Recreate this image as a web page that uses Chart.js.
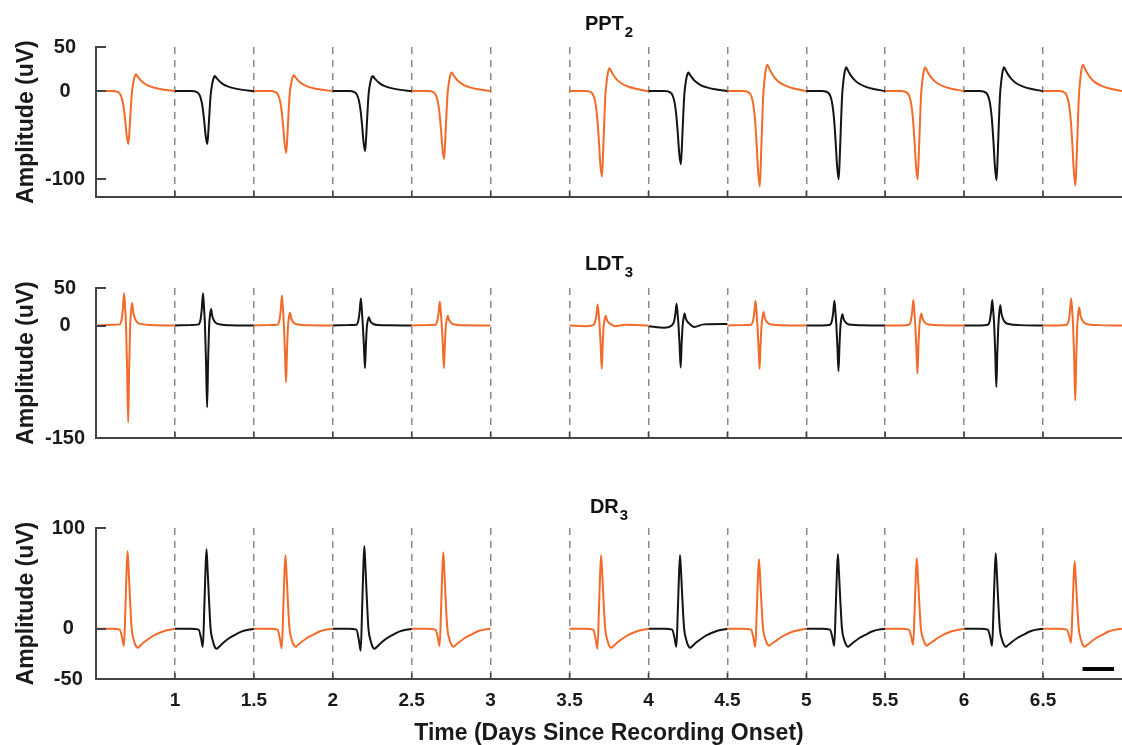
<!DOCTYPE html>
<html>
<head>
<meta charset="utf-8">
<script src="https://cdn.jsdelivr.net/npm/chart.js@4/dist/chart.umd.min.js"></script>
<style>
  body { margin: 0; background: #fff; }
  #wrap { position: relative; width: 1122px; height: 745px; overflow: hidden; background: #fff; }
  canvas { position: absolute; left: 0; }
  .ttl {
    position: absolute; left: 96px; width: 1026px; text-align: center;
    font: bold 20px "Liberation Sans", Arial, sans-serif; line-height: 20px;
    color: #111; z-index: 2;
  }
  .ttl .sb { font-size: 15px; position: relative; top: 7px; margin-left: 1px; }
</style>
</head>
<body>
<div id="wrap">
  <canvas id="pptChart" width="1122" height="240" style="top:0px"></canvas>
  <canvas id="ldtChart" width="1122" height="240" style="top:240px"></canvas>
  <canvas id="drChart" width="1122" height="265" style="top:480px"></canvas>
  <div class="ttl" style="top:13px">PPT<span class="sb">2</span></div>
  <div class="ttl" style="top:253px">LDT<span class="sb">3</span></div>
  <div class="ttl" style="top:496px">DR<span class="sb">3</span></div>
</div>
<script>
// ==================================================
// DATA
// ==================================================
// start of each half-day window (days since onset), no recording 3 - 3.5
const segStarts = [0.5, 1, 1.5, 2, 2.5, 3.5, 4, 4.5, 5, 5.5, 6, 6.5];
const segPhase = ['light', 'dark', 'light', 'dark', 'light', 'light', 'dark', 'light', 'dark', 'light', 'dark', 'light'];
const xTickValues = [1, 1.5, 2, 2.5, 3, 3.5, 4, 4.5, 5, 5.5, 6, 6.5];

// PPT2 : sample times inside a window + mean waveform per window (uV)
const pptOffsets = [0, 0.1, 0.14, 0.155, 0.165, 0.175, 0.185, 0.195, 0.205, 0.213, 0.22, 0.227, 0.234, 0.243, 0.253, 0.265, 0.28, 0.3, 0.33, 0.37, 0.42, 0.5];
const pptWaves = [
    [0, 0, -1.2, -4.2, -9, -18, -33, -51, -60, -42, -21, -3, 6.7, 15.2, 19, 16.2, 12.9, 9.5, 6.3, 3.8, 1.9, 0],
    [0, 0, -1.2, -4.2, -9, -18, -33, -51, -60, -42, -21, -3, 6, 13.6, 17, 14.5, 11.6, 8.5, 5.6, 3.4, 1.7, 0],
    [0, 0, -1.4, -4.9, -10.5, -21, -38.5, -59.5, -70, -49, -24.5, -3.5, 6.3, 14.4, 18, 15.3, 12.2, 9, 5.9, 3.6, 1.8, 0],
    [0, 0, -1.4, -4.8, -10.2, -20.4, -37.4, -57.8, -68, -47.6, -23.8, -3.4, 6, 13.6, 17, 14.5, 11.6, 8.5, 5.6, 3.4, 1.7, 0],
    [0, 0, -1.5, -5.4, -11.6, -23.1, -42.4, -65.5, -77, -53.9, -27, -3.9, 7.4, 16.8, 21, 17.9, 14.3, 10.5, 6.9, 4.2, 2.1, 0],
    [0, 0, -1.9, -6.8, -14.6, -29.1, -53.4, -82.5, -97, -67.9, -34, -4.9, 9.1, 20.8, 26, 22.1, 17.7, 13, 8.6, 5.2, 2.6, 0],
    [0, 0, -1.7, -5.8, -12.5, -24.9, -45.7, -70.6, -83, -58.1, -29, -4.2, 7.4, 16.8, 21, 17.9, 14.3, 10.5, 6.9, 4.2, 2.1, 0],
    [0, 0, -2.2, -7.6, -16.2, -32.4, -59.4, -91.8, -108, -75.6, -37.8, -5.4, 10.5, 24, 30, 25.5, 20.4, 15, 9.9, 6, 3, 0],
    [0, 0, -2, -7, -15, -30, -55, -85, -100, -70, -35, -5, 9.5, 21.6, 27, 23, 18.4, 13.5, 8.9, 5.4, 2.7, 0],
    [0, 0, -2, -7, -15, -30, -55, -85, -100, -70, -35, -5, 9.5, 21.6, 27, 23, 18.4, 13.5, 8.9, 5.4, 2.7, 0],
    [0, 0, -2, -7.1, -15.2, -30.3, -55.6, -85.9, -101, -70.7, -35.4, -5.1, 9.5, 21.6, 27, 23, 18.4, 13.5, 8.9, 5.4, 2.7, 0],
    [0, 0, -2.1, -7.5, -16, -32.1, -58.9, -91, -107, -74.9, -37.5, -5.4, 10.5, 24, 30, 25.5, 20.4, 15, 9.9, 6, 3, 0]
];
const pptTicks = [-100, 0, 50];

// LDT3
const ldtOffsets = [0, 0.1, 0.15, 0.162, 0.17, 0.178, 0.185, 0.19, 0.197, 0.204, 0.21, 0.216, 0.222, 0.229, 0.236, 0.245, 0.26, 0.29, 0.35, 0.5];
const ldtWaves = [
    [0, 1, 1.5, 7.7, 21.5, 43, 21.5, 2, -58, -129, -58, -4, 18, 30, 18, 10.5, 4.5, 1.8, 0.6, 0],
    [0, 0.5, 1.5, 7.7, 21.5, 43, 21.5, 2, -49, -109, -49, -3.3, 13.2, 22, 13.2, 7.7, 3.3, 1.3, 0.4, 0],
    [0, 0.5, 1, 7.2, 20, 40, 20, 2, -34.2, -76, -34.2, -2.3, 10.2, 17, 10.2, 6, 2.6, 1, 0.3, 0],
    [0, 0.5, 1, 6.5, 18, 36, 18, 1.8, -25.7, -57, -25.7, -1.7, 6.6, 11, 6.6, 3.9, 1.7, 0.7, 0.2, 0],
    [0, 0.5, 1, 5.8, 16, 32, 16, 1.6, -25.7, -57, -25.7, -1.7, 7.8, 13, 7.8, 4.6, 2, 0.8, 0.3, 0],
    [0, -1, 0.5, 5, 14, 28, 14, 1.4, -26.1, -58, -26.1, -1.7, 7.8, 13, 7.8, 4.6, 2, -1, 1, 0],
    [-1, -3, 0.5, 5.2, 14.5, 29, 14.5, 1.5, -25.2, -56, -25.2, -1.7, 9.6, 16, 9.6, 5.6, 2.4, -2, 1.5, 2],
    [0, 0.5, 1, 5.9, 16.5, 33, 16.5, 1.7, -26.1, -58, -26.1, -1.7, 10.8, 18, 10.8, 6.3, 2.7, 1.1, 0.4, 0],
    [0, 0, 1, 5.9, 16.5, 33, 16.5, 1.7, -27.5, -61, -27.5, -1.8, 9, 15, 9, 5.3, 2.3, 0.9, 0.3, 0],
    [0, 0, 1, 6.1, 17, 34, 17, 1.7, -28.8, -64, -28.8, -1.9, 9.6, 16, 9.6, 5.6, 2.4, 1, 0.3, 0],
    [0, 0, 1, 6.1, 17, 34, 17, 1.7, -36.9, -82, -36.9, -2.5, 16.2, 27, 16.2, 9.5, 4, 1.6, 0.5, 0],
    [0, 0, 1, 6.5, 18, 36, 18, 1.8, -45, -100, -45, -3, 14.4, 24, 14.4, 8.4, 3.6, 1.4, 0.5, 0]
];
const ldtTicks = [-150, 0, 50];

// DR3
const drOffsets = [0, 0.1, 0.15, 0.165, 0.177, 0.186, 0.193, 0.2, 0.207, 0.215, 0.226, 0.24, 0.252, 0.264, 0.28, 0.3, 0.33, 0.37, 0.42, 0.5];
const drWaves = [
    [0, 0, -1, -8.5, -17, 19, 54, 77, 58, 31, 0, -11.5, -17, -19, -17, -14, -10.5, -6.5, -3, 0],
    [0, 0, -1, -9, -18, 20, 55, 79, 59, 32, 0, -12, -18, -20, -18, -15, -11, -7, -3, 0],
    [0, 0, -1, -10, -19.5, 18, 51, 73, 55, 29, 0, -11, -16, -18, -16, -13.5, -10, -6.5, -2.5, 0],
    [0, 0, -1, -11, -22, 20, 57, 82, 61, 33, 0, -12, -18, -20, -18, -15, -11, -7, -3, 0],
    [0, 0, -1, -8.5, -17, 19, 53, 76, 57, 30, 0, -11, -16, -18, -16, -13.5, -10, -6.5, -2.5, 0],
    [0, 0, -1, -10, -20, 18, 51, 73, 55, 29, 0, -11.5, -17, -19, -17, -14, -10.5, -6.5, -3, 0],
    [0, 0, -1, -9, -18, 18, 51, 73, 55, 29, 0, -11.5, -17, -19, -17, -14, -10.5, -6.5, -3, 0],
    [0, 0, -1, -9, -18, 17, 48, 69, 52, 27.5, 0, -10, -15, -17, -15, -13, -9.5, -6, -2.5, 0],
    [0, 0, -1, -8.5, -17, 18.5, 52, 74, 55.5, 29.5, 0, -11, -16, -18, -16, -13.5, -10, -6.5, -2.5, 0],
    [0, 0, -1, -8, -16, 17.5, 49, 70, 52.5, 28, 0, -10, -15, -17, -15, -13, -9.5, -6, -2.5, 0],
    [0, 0, -1, -8.5, -17, 19, 52.5, 75, 56, 30, 0, -11, -16, -18, -16, -13.5, -10, -6.5, -2.5, 0],
    [0, 0, -1, -7, -14, 17, 47, 67, 50, 27, 0, -11, -16, -18, -16, -13.5, -10, -6.5, -2.5, 0]
];
const drTicks = [-50, 0, 100];

// scale bar in the DR panel
const scaleBarX = [6.75, 6.95];
const scaleBarY = [-40, -40];

// ==================================================
// STYLE
// ==================================================
const PHASE_COLOR = { light: '#F26B2A', dark: '#141414' };
const FONT = '"Liberation Sans", Arial, Helvetica, sans-serif';
const TEXT_COLOR = '#1a1a1a';
const AXIS_COLOR = '#444444';

// inward tick marks (MATLAB style)
const innerTicks = {
    id: 'innerTicks',
    afterDatasetsDraw(chart) {
        const { ctx, chartArea, scales } = chart;
        ctx.save();
        ctx.strokeStyle = AXIS_COLOR;
        ctx.lineWidth = 2;
        scales.y.ticks.forEach(t => {
            const py = Math.round(scales.y.getPixelForValue(t.value));
            ctx.beginPath();
            ctx.moveTo(chartArea.left, py);
            ctx.lineTo(chartArea.left + 10, py);
            ctx.stroke();
        });
        ctx.lineWidth = 1.5;
        scales.x.ticks.forEach(t => {
            const px = scales.x.getPixelForValue(t.value);
            ctx.beginPath();
            ctx.moveTo(px, chartArea.bottom);
            ctx.lineTo(px, chartArea.bottom - 6);
            ctx.stroke();
        });
        ctx.restore();
    }
};

function waveDatasets(offsets, waves) {
    return waves.map((vals, s) => ({
        data: offsets.map((t, i) => ({ x: segStarts[s] + t, y: vals[i] })),
        borderColor: PHASE_COLOR[segPhase[s]],
        borderWidth: 2,
        pointRadius: 0,
        cubicInterpolationMode: 'monotone',
        fill: false
    }));
}

function makePanel(id, datasets, yMin, yMax, yTicks, padTop, padBottom, xHeight, showX) {
    return new Chart(document.getElementById(id), {
        type: 'line',
        data: { datasets: datasets },
        options: {
            responsive: false,
            animation: false,
            devicePixelRatio: 1,
            layout: { padding: { top: padTop, left: 0, right: 0, bottom: padBottom } },
            plugins: {
                legend: { display: false },
                tooltip: { enabled: false },
                title: { display: false }
            },
            scales: {
                x: {
                    type: 'linear',
                    min: 0.5,
                    max: 7,
                    afterBuildTicks: s => { s.ticks = xTickValues.map(v => ({ value: v })); },
                    afterFit: s => { s.height = xHeight; },
                    grid: { display: true, drawOnChartArea: true, drawTicks: false, color: 'rgba(125,125,125,0.9)', lineWidth: 1.5 },
                    border: { display: true, color: AXIS_COLOR, width: 2, dash: [7, 6] },
                    ticks: {
                        display: showX,
                        autoSkip: false,
                        maxRotation: 0,
                        padding: 10,
                        color: TEXT_COLOR,
                        font: { family: FONT, size: 19, weight: 'bold' },
                        callback: v => String(v)
                    },
                    title: {
                        display: showX,
                        text: 'Time (Days Since Recording Onset)',
                        color: TEXT_COLOR,
                        font: { family: FONT, size: 23, weight: 'bold' },
                        padding: { top: 0, bottom: -2 }
                    }
                },
                y: {
                    min: yMin,
                    max: yMax,
                    afterBuildTicks: s => { s.ticks = yTicks.map(v => ({ value: v })); },
                    afterFit: s => {
                        s.width = 96;
                        s.paddingTop = 0;
                        s.paddingBottom = 0;
                    },
                    grid: { display: false, drawTicks: false },
                    border: { display: true, color: AXIS_COLOR, width: 2 },
                    ticks: {
                        padding: 11,
                        crossAlign: 'center',
                        color: TEXT_COLOR,
                        font: { family: FONT, size: 20, weight: 'bold' },
                        callback: v => String(v)
                    },
                    title: {
                        display: true,
                        text: 'Amplitude (uV)',
                        color: TEXT_COLOR,
                        font: { family: FONT, size: 23, weight: 'bold' },
                        padding: { top: 13, bottom: 0 }
                    }
                }
            }
        },
        plugins: [innerTicks]
    });
}

// ==================================================
// PANELS
// ==================================================
makePanel('pptChart', waveDatasets(pptOffsets, pptWaves), -120, 50, pptTicks, 47, 40, 3, false);
makePanel('ldtChart', waveDatasets(ldtOffsets, ldtWaves), -150, 50, ldtTicks, 48, 40, 2, false);

const drSets = waveDatasets(drOffsets, drWaves);
drSets.push({
    data: scaleBarX.map((x, i) => ({ x: x, y: scaleBarY[i] })),
    borderColor: '#000000',
    borderWidth: 4,
    pointRadius: 0,
    fill: false
});
makePanel('drChart', drSets, -50, 100, drTicks, 48, 0, 66, true);
</script>
</body>
</html>
